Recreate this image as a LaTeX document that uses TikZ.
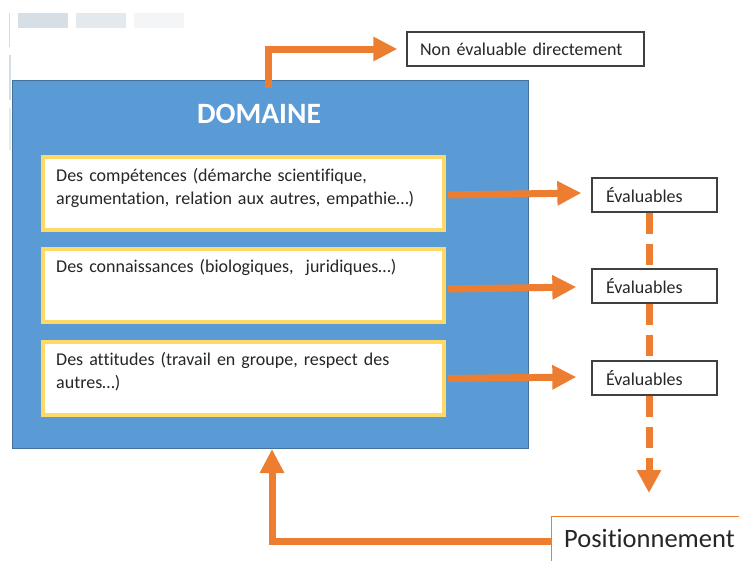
\documentclass[tikz,border=0pt]{standalone}
\usepackage{fontspec}
\setmainfont{Carlito}[Ligatures=NoCommon]
\usetikzlibrary{arrows.meta,calc}
\definecolor{dblue}{HTML}{5B9BD5}
\definecolor{dborder}{HTML}{41719C}
\definecolor{ylw}{HTML}{FFD966}
\definecolor{org}{HTML}{ED7D31}
\definecolor{txt}{HTML}{262626}
\definecolor{gA}{HTML}{D6DFE5}
\definecolor{gB}{HTML}{E3E9ED}
\definecolor{gC}{HTML}{F3F5F7}
\definecolor{gL}{HTML}{D3DDE5}
\begin{document}
\begin{tikzpicture}[x=1pt,y=-1pt,
 ybox/.style={draw=ylw, line width=4pt, fill=white, minimum width=401pt, minimum height=73pt, inner sep=0pt, anchor=north west},
 btxt/.style={anchor=base west, inner sep=0pt, text width=385pt, align=left, font=\fontsize{18}{23.5}\selectfont, text=txt},
 ebox/.style={draw=black!75, line width=1.3pt, fill=white, minimum height=34pt, inner ysep=0pt, align=left, font=\fontsize{18}{22}\selectfont, text=txt},
 oarr/.style={draw=org, line width=7pt, -{Triangle[length=24pt,width=23pt]}},
 odash/.style={draw=org, line width=7pt, dash pattern=on 21pt off 10pt},
]
\useasboundingbox (0,0) rectangle (739,560);
% faint header artefacts
\fill[gA] (18,13) rectangle (68,28);
\fill[gB] (76,13) rectangle (126,28);
\fill[gC] (134,13) rectangle (184,28);
\draw[gL, line width=1.2pt] (9.5,13) -- (9.5,47);
\draw[gL, line width=1.2pt] (10,55) -- (10,100);
\draw[gL!60, line width=1.2pt] (10,108) -- (10,150);
% domain box
\node[draw=dborder, line width=1pt, fill=dblue, minimum width=516pt, minimum height=368pt, anchor=north west, inner sep=0pt] (dom) at (12,80) {};
\node[text=white, inner sep=0pt, font=\fontsize{29.5}{32}\selectfont\bfseries] (dt) at (259,113.5) {DOMAINE};
% yellow boxes
\node[ybox] (c1) at (41,155) {};
\node[ybox] (c2) at (41,247) {};
\node[ybox] (c3) at (41,340) {};
\node[btxt] (t1) at (56,181) {Des compétences (démarche scientifique,\\argumentation, relation aux autres, empathie…)};
\node[btxt] (t2) at (56,272) {Des connaissances (biologiques,\ \ juridiques…)};
\node[btxt] (t3) at (56,365) {Des attitudes (travail en groupe, respect des\\autres…)};
% evaluation boxes
\node[ebox, text width=97pt, inner xsep=14pt] (e1) at (654.5,195) {Évaluables};
\node[ebox, text width=97pt, inner xsep=14pt] (e2) at (654.5,286) {Évaluables};
\node[ebox, text width=97pt, inner xsep=14pt] (e3) at (654.5,378) {Évaluables};
\node[ebox, text width=211pt, inner xsep=13pt] (ne) at (525.5,49) {Non évaluable directement};
% positionnement
\node[draw=org, line width=1pt, fill=white, minimum width=230pt, minimum height=80pt, anchor=north west, inner sep=0pt] (pos) at (551,516) {};
\node[anchor=base west, inner sep=0pt, text=txt, font=\fontsize{26.5}{30}\selectfont] (pt) at (564,547) {Positionnement};
% arrows
\draw[oarr] ($(dom.north west)+(256,8)$) |- ($(ne.west)+(-9,0)$);
\draw[oarr, shorten <=2pt] ($(c1.east)+(0,1.5)$) -- ($(e1.west)+(-10,-2)$);
\draw[oarr, shorten <=2pt] ($(c2.east)+(0,3.5)$) -- ($(e2.west)+(-15,1)$);
\draw[oarr, shorten <=2pt] ($(c3.east)+(0,0)$) -- ($(e3.west)+(-15,-1)$);
\draw[odash] ($(e1.south)+(-5.5,0)$) -- ($(e2.north)+(-5.5,0)$);
\draw[odash] ($(e2.south)+(-5.5,0)$) -- ($(e3.north)+(-5.5,0)$);
\coordinate (pend) at (649,493);
\draw[odash, -{Triangle[length=23pt,width=23pt]}] ($(e3.south)+(-5.5,0)$) -- (pend);
\draw[oarr] ($(pos.north west)+(0,25)$) -| ($(dom.south west)+(260,0)$);
\end{tikzpicture}
\end{document}
